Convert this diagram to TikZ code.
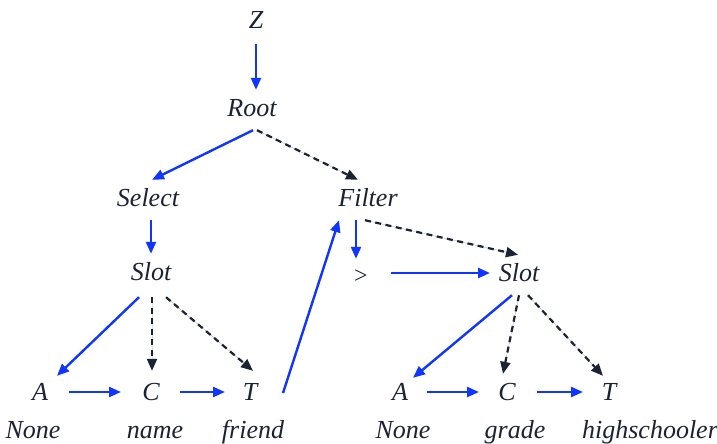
\documentclass[tikz,border=0pt]{standalone}
\usepackage{fontspec}
\setmainfont{Liberation Serif}
\usetikzlibrary{arrows.meta}
\definecolor{ink}{HTML}{1B2234}
\definecolor{blu}{HTML}{0F35FF}
\begin{document}
\begin{tikzpicture}[x=1pt,y=-1pt,
  lab/.style={font=\fontsize{26}{30}\selectfont\itshape, text=ink, inner sep=0pt,
    minimum height=40pt, text height=18pt, text depth=5pt},
  solidarr/.style={draw=blu, line width=2.4pt, -{Triangle[length=12pt,width=10pt]}, fill=blu},
  dasharr/.style={draw=ink, line width=2.2pt, dash pattern=on 6pt off 4.5pt, -{Triangle[length=12pt,width=10pt]}, fill=ink}]
\useasboundingbox (0,0) rectangle (717,444);
\node[lab] (z) at (256,22) {Z};
\node[lab] (root) at (252,110) {Root};
\node[lab] (select) at (148,200) {Select};
\node[lab] (filter) at (368,200) {Filter};
\node[lab] (slot1) at (151,274) {Slot};
\node[lab,font=\fontsize{24}{28}\selectfont] (gt) at (361,277) {>};
\node[lab] (slot2) at (519,275) {Slot};
\node[lab] (a1) at (40,394) {A};
\node[lab] (c1) at (151,394) {C};
\node[lab] (t1) at (250,394) {T};
\node[lab] (a2) at (400,394) {A};
\node[lab] (c2) at (507,394) {C};
\node[lab] (t2) at (609,394) {T};
\node[lab] (none1) at (33,432) {None};
\node[lab] (name) at (155,432) {name};
\node[lab] (friend) at (253,432) {friend};
\node[lab] (none2) at (403,432) {None};
\node[lab] (grade) at (515,432) {grade};
\node[lab] (hs) at (650,432) {highschooler};

\draw[solidarr] ([yshift=-2pt]z.south) -- ([xshift=4pt]root.north);
\draw[solidarr] ([xshift=1pt]root.south) -- ([xshift=4pt]select.north);
\draw[dasharr] ([xshift=5pt]root.south) -- ([xshift=-10pt]filter.north);
\draw[solidarr] ([xshift=3pt]select.south) -- (slot1.north);
\draw[solidarr] ([xshift=-12pt]filter.south) -- ([xshift=-5pt,yshift=-2pt]gt.north);
\draw[dasharr] ([xshift=-3pt]filter.south) -- ([xshift=-1pt]slot2.north);
\draw[solidarr] ([xshift=30pt,yshift=4pt]gt.center) -- ([xshift=-29pt,yshift=2pt]slot2.center);
\draw[solidarr] ([xshift=-12pt,yshift=-3pt]slot1.south) -- ([xshift=17pt,yshift=-2pt]a1.north);
\draw[dasharr] ([xshift=1pt,yshift=-3pt]slot1.south) -- ([xshift=1pt,yshift=3pt]c1.north);
\draw[dasharr] ([xshift=15pt,yshift=-3pt]slot1.south) -- ([xshift=3pt,yshift=3pt]t1.north);
\draw[solidarr] ([xshift=29pt,yshift=2pt]a1.center) -- ([xshift=-30pt,yshift=2pt]c1.center);
\draw[solidarr] ([xshift=29pt,yshift=2pt]c1.center) -- ([xshift=-25pt,yshift=2pt]t1.center);
\draw[solidarr] ([xshift=33pt,yshift=1pt]t1.center) -- ([xshift=-29pt]filter.south);
\draw[solidarr] ([xshift=-7pt]slot2.south) -- ([xshift=13pt,yshift=-4pt]a2.north);
\draw[dasharr] (slot2.south) -- ([xshift=-4pt]c2.north);
\draw[dasharr] ([xshift=9pt]slot2.south) -- ([xshift=-6pt,yshift=-2pt]t2.north);
\draw[solidarr] ([xshift=27pt,yshift=2pt]a2.center) -- ([xshift=-28pt,yshift=2pt]c2.center);
\draw[solidarr] ([xshift=30pt,yshift=2pt]c2.center) -- ([xshift=-26pt,yshift=2pt]t2.center);
\end{tikzpicture}
\end{document}
